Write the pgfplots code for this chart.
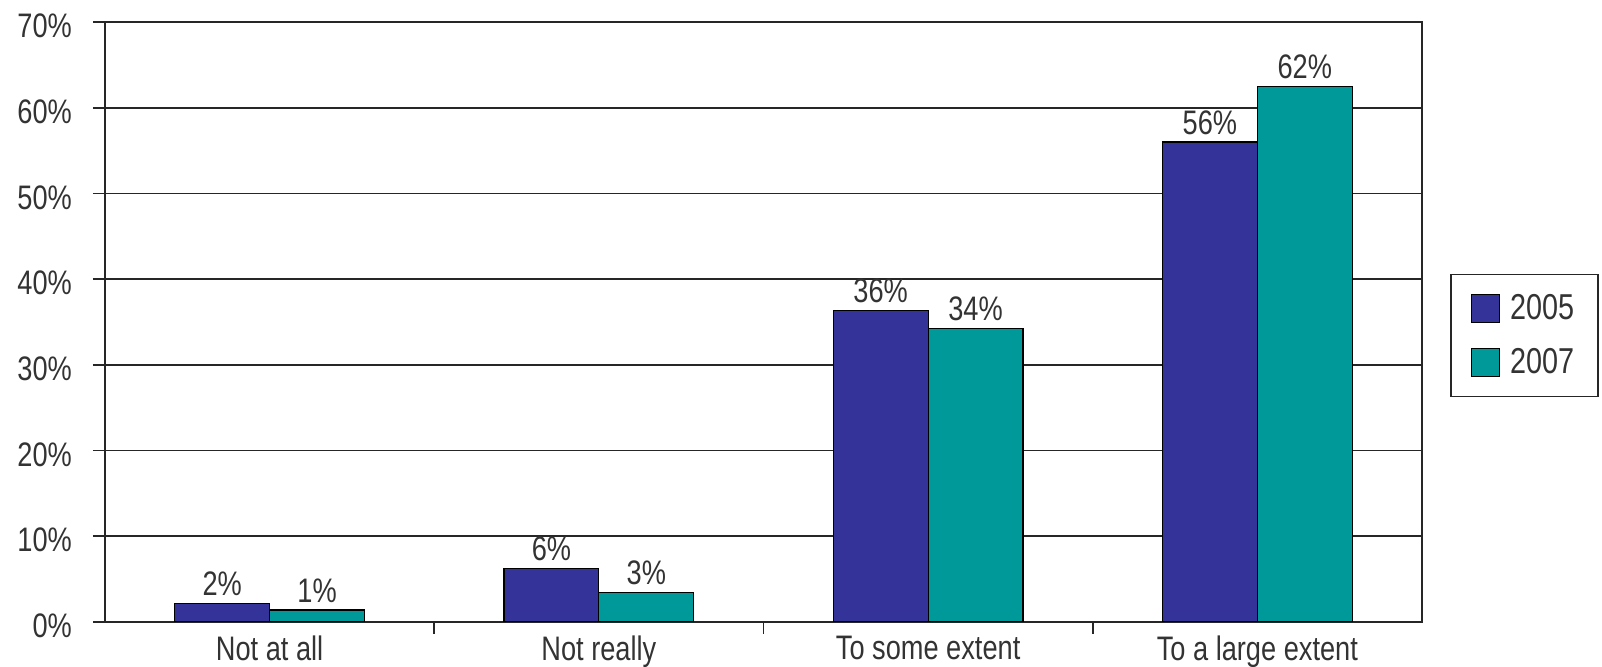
\documentclass[border=0pt]{standalone}
\usepackage{fontspec}
\setmainfont{Liberation Sans}[FakeStretch=0.8]
\usepackage{pgfplots}
\pgfplotsset{compat=1.18}
\definecolor{c2005}{RGB}{51,51,153}
\definecolor{c2007}{RGB}{0,153,153}
\begin{document}
\begin{tikzpicture}
\begin{axis}[
  scale only axis, width=658.5pt, height=300pt,
  xmin=-0.5, xmax=3.5, ymin=0, ymax=70,
  ytick={0,10,...,70},
  yticklabel={\pgfmathprintnumber{\tick}\%},
  /pgf/number format/assume math mode=true,
  xtick={0,1,2,3},
  xticklabels={Not at all, Not really, To some extent, To a large extent},
  minor xtick={0.5,1.5,2.5},
  major x tick style={draw=none},
  ymajorgrids, grid style={black!85, line width=0.8pt},
  axis line style={black!85, line width=0.8pt},
  tick align=outside, tick style={black!85, line width=0.8pt},
  major tick length=6pt, minor tick length=6pt,
  xtick pos=bottom, ytick pos=left,
  tick label style={font=\fontsize{17}{18}\selectfont, text=black!80},
  yticklabel style={xshift=-7pt, yshift=-2pt},
  xticklabel style={yshift=2.5pt},
  ybar=0pt, bar width=0.288,
  point meta=explicit symbolic,
  nodes near coords={\pgfplotspointmeta\%},
  every node near coord/.append style={font=\fontsize{17}{18}\selectfont, text=black!80, inner sep=3.5pt},
  legend style={at={(1,0.4775)}, anchor=west, xshift=14pt, draw=black!85, line width=0.8pt,
    font=\fontsize{18}{19}\selectfont, text=black!80, inner xsep=10pt, inner ysep=8pt, row sep=9pt},
  legend cell align=left,
  legend image code/.code={\draw[#1, line width=0.6pt] (2pt,-7pt) rectangle (16pt,7pt);},
]
\addplot[fill=c2005, draw=black, line width=0.6pt]
  coordinates {(0,2.2) [2] (1,6.2) [6] (2,36.3) [36] (3,56.0) [56]};
\addplot[fill=c2007, draw=black, line width=0.6pt]
  coordinates {(0,1.4) [1] (1,3.4) [3] (2,34.2) [34] (3,62.5) [62]};
\legend{\hspace{3pt}2005, \hspace{3pt}2007}
\end{axis}
\pgfresetboundingbox
\path (current axis.south west) ++(-52.5pt,-22.5pt) rectangle ++(801pt,333.5pt);
\end{tikzpicture}
\end{document}
